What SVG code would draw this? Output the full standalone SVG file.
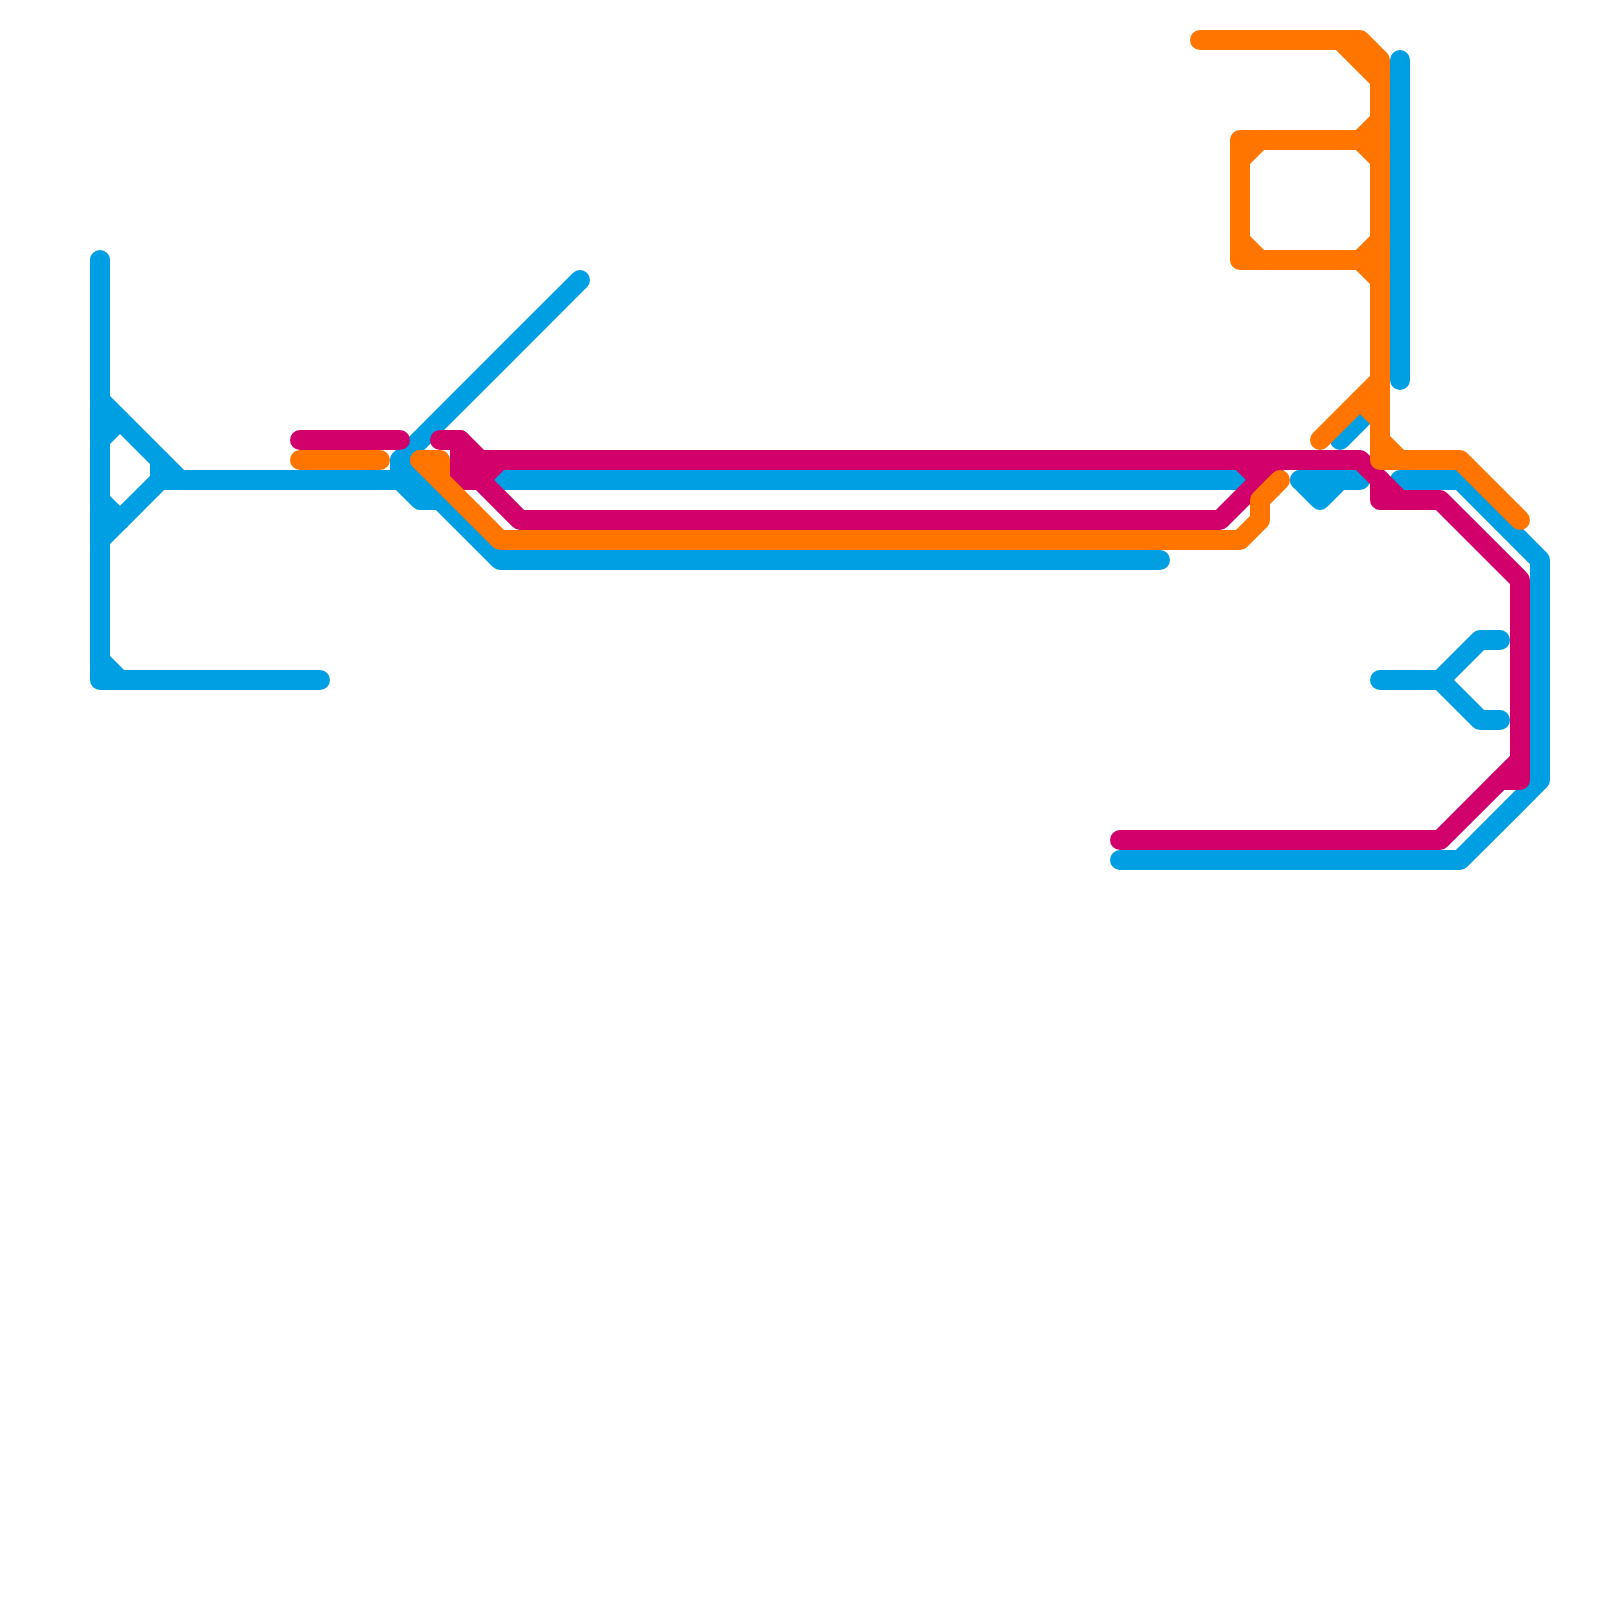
<svg xmlns="http://www.w3.org/2000/svg" width="1600" height="1600" viewBox="0 0 1600 1600">
<style>
path{fill:none;stroke-width:20;stroke-linecap:round;stroke-linejoin:round}
.b path{stroke:#009ee3}
.m path{stroke:#d1006a}
.o path{stroke:#ff7500}
</style>
<rect width="1600" height="1600" fill="#fff"/>
<g id="connectors">
<g id="line-blue" class="b">
<path d="M100 260V680H320"/>
<path d="M100 660L120 680"/>
<path d="M100 400L180 480"/>
<path d="M100 440L120 420"/>
<path d="M100 500L120 520"/>
<path d="M100 540L160 480"/>
<path d="M160 460V480H400L420 500H440L500 560H1160"/>
<path d="M580 280L400 460V480"/>
<path d="M400 460L440 500"/>
<path d="M500 480H1240"/>
<path d="M1300 480H1360"/>
<path d="M1300 480L1320 500L1340 480"/>
<path d="M1340 440L1380 400"/>
<path d="M1400 60V380"/>
<path d="M1400 480H1460L1540 560V780L1460 860H1120"/>
<path d="M1380 680H1440L1480 640H1500"/>
<path d="M1440 680L1480 720H1500"/>
</g>
<g id="line-magenta" class="m">
<path d="M300 440H400"/>
<path d="M440 440H460L480 460H1360L1400 500"/>
<path d="M460 440V480H480L520 520H1220L1280 460"/>
<path d="M460 460H480V480"/>
<path d="M480 480L500 460"/>
<path d="M1240 460L1260 480"/>
<path d="M1380 480V500H1440L1520 580V780H1500"/>
<path d="M1120 840H1440L1520 760"/>
</g>
<g id="line-orange" class="o">
<path d="M300 460H380"/>
<path d="M420 460H440V480"/>
<path d="M420 460L500 540H1240L1260 520V500L1280 480"/>
<path d="M1200 40H1360L1380 60V460H1460L1520 520"/>
<path d="M1340 40L1380 80"/>
<path d="M1380 120L1360 140H1240V260H1360L1380 240"/>
<path d="M1360 140L1380 160"/>
<path d="M1360 260L1380 280"/>
<path d="M1240 160L1260 140"/>
<path d="M1240 240L1260 260"/>
<path d="M1320 440L1380 380"/>
<path d="M1360 400L1380 420"/>
<path d="M1380 440L1400 460"/>
</g>
</g>
</svg>
